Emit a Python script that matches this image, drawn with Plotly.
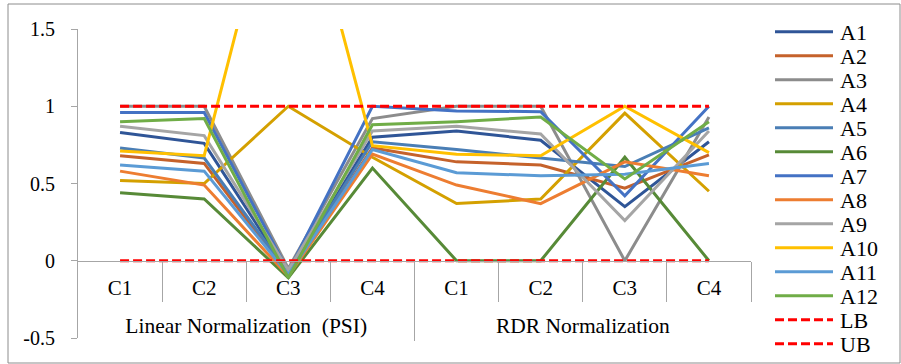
import plotly.graph_objects as go

groups = ["Linear Normalization  (PSI)"] * 4 + ["RDR Normalization"] * 4
cats = ["C1", "C2", "C3", "C4"] * 2

names = ["A1", "A2", "A3", "A4", "A5", "A6", "A7", "A8", "A9", "A10", "A11", "A12"]
A1 = [0.83, 0.76, -0.08, 0.80, 0.84, 0.78, 0.35, 0.77]
A2 = [0.68, 0.63, -0.09, 0.73, 0.64, 0.62, 0.47, 0.685]
A3 = [1.00, 1.00, -0.05, 0.92, 1.00, 1.00, 0.00, 0.93]
A4 = [0.52, 0.50, 1.00, 0.67, 0.37, 0.40, 0.955, 0.45]
A5 = [0.73, 0.665, -0.08, 0.77, 0.72, 0.665, 0.61, 0.86]
A6 = [0.44, 0.40, -0.11, 0.60, 0.00, 0.00, 0.67, 0.00]
A7 = [0.96, 0.96, -0.07, 1.00, 0.97, 0.965, 0.42, 1.00]
A8 = [0.58, 0.49, -0.10, 0.69, 0.49, 0.37, 0.64, 0.55]
A9 = [0.87, 0.81, -0.06, 0.84, 0.87, 0.82, 0.26, 0.84]
A10 = [0.71, 0.68, 2.80, 0.745, 0.69, 0.68, 1.00, 0.70]
A11 = [0.62, 0.58, -0.09, 0.72, 0.57, 0.55, 0.56, 0.63]
A12 = [0.90, 0.92, -0.11, 0.88, 0.90, 0.93, 0.53, 0.90]
LB = [0] * 8
UB = [1] * 8

series = [A1, A2, A3, A4, A5, A6, A7, A8, A9, A10, A11, A12]
colors = ["#2F5597", "#C5622B", "#8C8C8C", "#D4A000", "#4A7EB5", "#578A37",
          "#4472C4", "#ED7D31", "#A5A5A5", "#FFC000", "#5B9BD5", "#70AD47"]

ytickvals = [-0.5, 0, 0.5, 1, 1.5]
yticktext = ["-0.5", "0", "0.5", "1", "1.5"]

n = len(cats)
idx = list(range(n))
inner_bounds = [i + 0.5 for i in idx if i + 1 < n and groups[i] == groups[i + 1]] + [n - 0.5]
group_bounds = [i + 0.5 for i in idx if i + 1 < n and groups[i] != groups[i + 1]]
group_names = list(dict.fromkeys(groups))
group_pos = [sum(i for i in idx if groups[i] == g) / groups.count(g) for g in group_names]

FONT = "Liberation Serif, Times New Roman, serif"
AX = "#A6A6A6"
RED = "#FF0000"
DASH = "9px,4px"

fig = go.Figure()
for nm, vals, col in zip(names, series, colors):
    fig.add_trace(go.Scatter(x=[groups, cats], y=vals, mode="lines", name=nm,
                             line=dict(color=col, width=3), showlegend=False))
for nm, vals in (("LB", LB), ("UB", UB)):
    fig.add_trace(go.Scatter(x=[groups, cats], y=vals, mode="lines", name=nm,
                             line=dict(color=RED, width=3, dash=DASH), showlegend=False))
# empty helper traces so the overlay label axes are drawn
for ax in ("x2", "x3"):
    fig.add_trace(go.Scatter(x=[None], y=[None], xaxis=ax, yaxis="y", mode="lines",
                             showlegend=False, hoverinfo="skip"))

W, H = 901, 364
L, R, T, B = 78, 150, 29, 26
pw, ph = W - L - R, H - T - B

def px(x):
    return (x - L) / pw

def py(y):
    return (H - B - y) / ph

shapes = [dict(type="rect", xref="paper", yref="paper",
               x0=px(8), x1=px(900), y0=py(363), y1=py(4),
               line=dict(color="#8C8C8C", width=1), layer="below")]
annotations = []
leg_names = names + ["LB", "UB"]
leg_cols = colors + [RED, RED]
for i, (nm, col) in enumerate(zip(leg_names, leg_cols)):
    yc = 31.7 + 24 * i
    dash = DASH if nm in ("LB", "UB") else "solid"
    shapes.append(dict(type="line", xref="paper", yref="paper",
                       x0=px(775), x1=px(833), y0=py(yc), y1=py(yc),
                       line=dict(color=col, width=3, dash=dash)))
    annotations.append(dict(xref="paper", yref="paper", x=px(838), y=py(yc + 1),
                            text=nm, showarrow=False, xanchor="left", yanchor="middle",
                            font=dict(family=FONT, size=22, color="black")))

common = dict(anchor="free", position=0.25, side="bottom", range=[-0.5, n - 0.5],
              showline=False, showgrid=False, zeroline=False)

fig.update_layout(
    width=W, height=H,
    margin=dict(l=L, r=R, t=T, b=B),
    paper_bgcolor="white", plot_bgcolor="white",
    showlegend=False,
    font=dict(family=FONT, size=21, color="black"),
    shapes=shapes, annotations=annotations,
    xaxis=dict(type="multicategory", anchor="free", position=0.25,
               range=[-0.5, n - 0.5],
               showline=True, linecolor=AX, linewidth=1,
               ticks="", showdividers=False, showticklabels=False,
               showgrid=False, zeroline=False),
    xaxis2=dict(overlaying="x", tickvals=idx, ticktext=cats, ticks="",
                ticklabelstandoff=12,
                tickfont=dict(family=FONT, size=21, color="black"),
                minor=dict(tickvals=inner_bounds, ticks="outside", ticklen=40,
                           tickcolor=AX, tickwidth=1),
                **common),
    xaxis3=dict(overlaying="x", tickvals=group_pos, ticktext=group_names, ticks="",
                ticklabelstandoff=50,
                tickfont=dict(family=FONT, size=21.5, color="black"),
                minor=dict(tickvals=group_bounds, ticks="outside", ticklen=79,
                           tickcolor=AX, tickwidth=1),
                **common),
    yaxis=dict(range=[-0.5, 1.5], tickvals=ytickvals, ticktext=yticktext,
               showline=True, linecolor=AX, linewidth=1,
               ticks="outside", ticklen=6, tickcolor=AX,
               showgrid=False, zeroline=False, ticklabelstandoff=12,
               tickfont=dict(family=FONT, size=20, color="black")),
)

fig.write_html("out.html")
